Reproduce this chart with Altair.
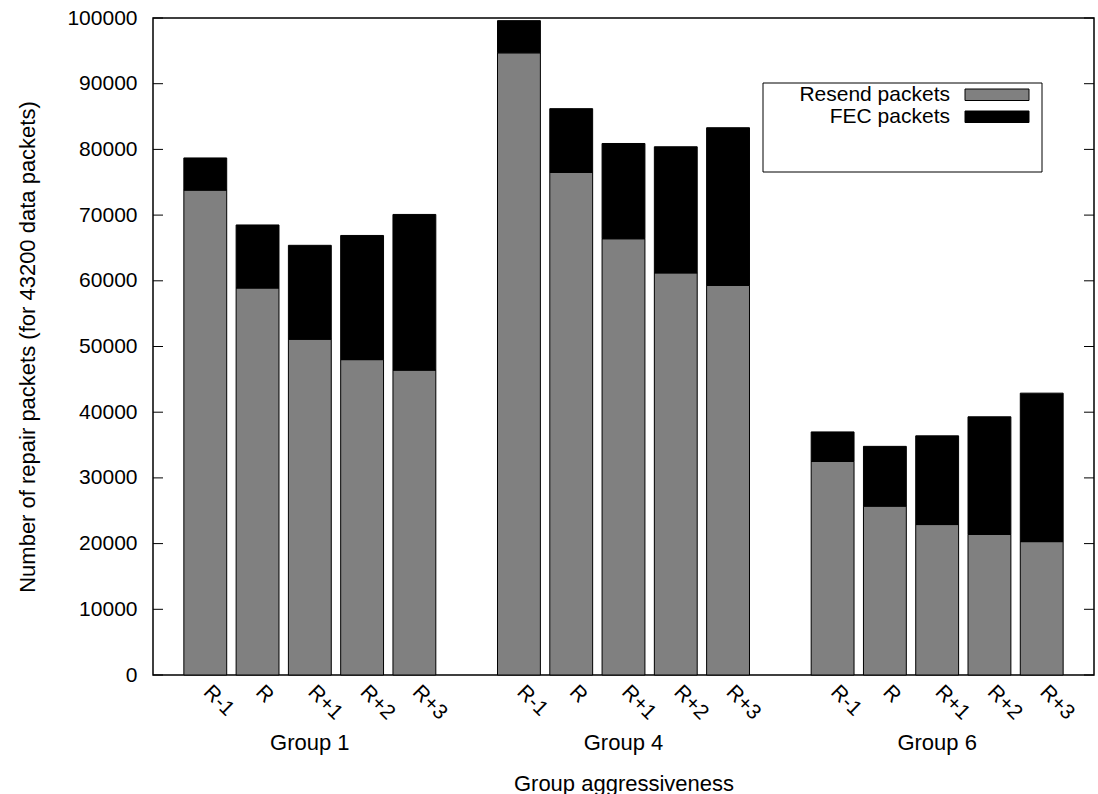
import altair as alt
import pandas as pd

# Repair traffic per group and aggressiveness level
groups = ["Group 1", "Group 4", "Group 6"]
levels = ["R-1", "R", "R+1", "R+2", "R+3"]
resend = [
    [73800, 58900, 51100, 48000, 46400],
    [94700, 76500, 66400, 61200, 59300],
    [32500, 25700, 22900, 21400, 20300],
]
fec = [
    [4900, 9600, 14300, 18900, 23700],
    [4900, 9700, 14500, 19200, 24000],
    [4500, 9100, 13500, 17900, 22600],
]
series = ["Resend packets", "FEC packets"]
series_colors = ["#808080", "#000000"]
y_ticks = list(range(0, 100001, 10000))

FONT = "Liberation Sans"
FS = 21
TFS = 22
W, H = 941, 657

# one bar slot per level, one empty slot between groups
rows = []
for gi, g in enumerate(groups):
    for li, lvl in enumerate(levels):
        slot = gi * 6 + li
        r, f = resend[gi][li], fec[gi][li]
        rows.append(dict(group=g, level=lvl, slot=slot, series=series[0], base=0, top=r))
        rows.append(dict(group=g, level=lvl, slot=slot, series=series[1], base=r, top=r + f))
bars_df = pd.DataFrame(rows)
levels_df = bars_df[bars_df.series == series[0]][["slot", "level"]]
groups_df = pd.DataFrame({"group": groups, "center": [gi * 6 + 2 for gi in range(len(groups))]})
ticks_df = pd.DataFrame({"v": y_ticks})

x_scale = alt.Scale(domain=[-1, 17], nice=False, zero=False)
y_scale = alt.Scale(domain=[0, 100000], nice=False)
color_scale = alt.Scale(domain=series, range=series_colors)

bars = (
    alt.Chart(bars_df)
    .transform_calculate(x0="datum.slot - 0.41", x1="datum.slot + 0.41")
    .mark_bar(stroke="black", strokeWidth=1)
    .encode(
        x=alt.X(
            "x0:Q",
            scale=x_scale,
            axis=alt.Axis(
                labels=False, ticks=False, domain=False, grid=False,
                title="Group aggressiveness", titleFont=FONT, titleFontSize=TFS,
                titleFontWeight="normal", titleColor="black",
                titleY=115, titleBaseline="alphabetic",
            ),
        ),
        x2="x1:Q",
        y=alt.Y(
            "base:Q",
            scale=y_scale,
            axis=alt.Axis(
                values=y_ticks, format="d", ticks=False, grid=False, domain=False,
                labelFont=FONT, labelFontSize=FS, labelColor="black", labelPadding=16,
                title="Number of repair packets (for 43200 data packets)",
                titleFont=FONT, titleFontSize=TFS, titleFontWeight="normal",
                titleColor="black", titleX=-119, titleY=H / 2,
                titleAngle=270, titleAlign="center", titleBaseline="alphabetic",
            ),
        ),
        y2="top:Q",
        color=alt.Color("series:N", scale=color_scale, legend=None),
    )
)

# inward tick marks on both vertical borders
left_ticks = alt.Chart(ticks_df).mark_rule(color="black", strokeWidth=1).encode(
    y=alt.Y("v:Q", scale=y_scale), x=alt.value(0), x2=alt.value(10)
)
right_ticks = alt.Chart(ticks_df).mark_rule(color="black", strokeWidth=1).encode(
    y=alt.Y("v:Q", scale=y_scale), x=alt.value(W - 10), x2=alt.value(W)
)

level_labels = alt.Chart(levels_df).mark_text(
    angle=45, align="left", baseline="alphabetic", dx=-4,
    font=FONT, fontSize=FS, color="black",
).encode(x=alt.X("slot:Q", scale=x_scale), y=alt.value(H + 21), text="level:N")

group_labels = alt.Chart(groups_df).mark_text(
    align="center", baseline="alphabetic", font=FONT, fontSize=TFS, color="black",
).encode(x=alt.X("center:Q", scale=x_scale), y=alt.value(H + 75), text="group:N")

# key box in the upper right
legend_box = alt.Chart(pd.DataFrame({"k": [0]})).mark_rect(
    fill="white", stroke="black", strokeWidth=1
).encode(x=alt.value(610), x2=alt.value(889), y=alt.value(65), y2=alt.value(154))

legend_layers = []
for i, name in enumerate(series):
    row_df = pd.DataFrame({"series": [name]})
    top = 71 + 22 * i
    legend_layers.append(
        alt.Chart(row_df).mark_rect(stroke="black", strokeWidth=1).encode(
            x=alt.value(812), x2=alt.value(876), y=alt.value(top), y2=alt.value(top + 11.5),
            color=alt.Color("series:N", scale=color_scale, legend=None),
        )
    )
    legend_layers.append(
        alt.Chart(row_df).mark_text(
            align="right", baseline="alphabetic", font=FONT, fontSize=FS, color="black"
        ).encode(x=alt.value(797), y=alt.value(top + 12), text="series:N")
    )

chart = (
    alt.layer(bars, left_ticks, right_ticks, level_labels, group_labels, legend_box, *legend_layers)
    .properties(
        width=W,
        height=H,
        autosize=alt.AutoSizeParams(type="none"),
        padding={"left": 153, "top": 18, "right": 4, "bottom": 119},
        background="white",
    )
    .configure_view(stroke="black", strokeWidth=1.5)
)

chart.save("out.html", embed_options={"renderer": "svg", "actions": False})
